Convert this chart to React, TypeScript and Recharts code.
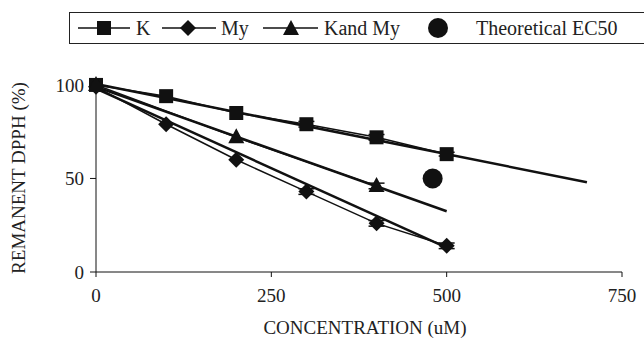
import {
  ComposedChart,
  Line,
  Scatter,
  XAxis,
  YAxis,
  Label,
  ErrorBar,
} from "recharts";

// measured points
const kConc = [0, 100, 200, 300, 400, 500];
const kValues = [100, 94, 85, 79, 72, 63];
const kErrors = [0, 0, 0, 1.5, 1.5, 1];

const myConc = [0, 100, 200, 300, 400, 500];
const myValues = [99, 79, 60, 43, 26, 14];
const myErrors = [0, 0, 0, 1.5, 1.5, 1.5];

const kmyConc = [0, 200, 400];
const kmyValues = [100, 72, 46];
const kmyErrors = [0, 0, 1.5];

// linear trend lines (start / end)
const kTrendConc = [0, 700];
const kTrendValues = [100.5, 48];
const myTrendConc = [0, 500];
const myTrendValues = [98, 13];
const kmyTrendConc = [0, 500];
const kmyTrendValues = [99, 32.5];

const ec50Conc = [480];
const ec50Values = [50];

const xTicks = [0, 250, 500, 750];
const yTicks = [0, 50, 100];

const FONT =
  "'Liberation Serif', 'Tinos', 'Noto Serif', 'DejaVu Serif', 'FreeSerif', serif";

const toRows = (xs: number[], ys: number[], es?: number[]) =>
  xs.map((x, i) => ({ x, y: ys[i], err: es ? es[i] : 0 }));

const kData = toRows(kConc, kValues, kErrors);
const myData = toRows(myConc, myValues, myErrors);
const kmyData = toRows(kmyConc, kmyValues, kmyErrors);
const kTrend = toRows(kTrendConc, kTrendValues);
const myTrend = toRows(myTrendConc, myTrendValues);
const kmyTrend = toRows(kmyTrendConc, kmyTrendValues);
const ec50Data = toRows(ec50Conc, ec50Values);

const Square = (props: any) => {
  const { cx, cy } = props;
  if (cx == null || cy == null) return null;
  return <rect x={cx - 7} y={cy - 7} width={14} height={14} fill="#111" />;
};

const Diamond = (props: any) => {
  const { cx, cy } = props;
  if (cx == null || cy == null) return null;
  const r = 8;
  return (
    <polygon
      points={`${cx},${cy - r} ${cx + r},${cy} ${cx},${cy + r} ${cx - r},${cy}`}
      fill="#111"
    />
  );
};

const Triangle = (props: any) => {
  const { cx, cy } = props;
  if (cx == null || cy == null) return null;
  return (
    <polygon
      points={`${cx},${cy - 9} ${cx + 8},${cy + 6} ${cx - 8},${cy + 6}`}
      fill="#111"
    />
  );
};

const Dot = (props: any) => {
  const { cx, cy } = props;
  if (cx == null || cy == null) return null;
  return <circle cx={cx} cy={cy} r={10} fill="#111" />;
};

function LegendBox() {
  const item = {
    position: "absolute" as const,
    top: 0,
    fontSize: 20,
    lineHeight: "30px",
  };
  return (
    <div
      style={{
        position: "absolute",
        left: 69,
        top: 12,
        width: 600,
        height: 30,
        border: "1.5px solid #222",
        fontFamily: FONT,
        color: "#222",
      }}
    >
      <svg
        width={600}
        height={30}
        style={{ position: "absolute", left: 0, top: 0 }}
      >
        <line x1={8} x2={60} y1={15} y2={15} stroke="#111" strokeWidth={1.5} />
        <Square cx={34} cy={15} />
        <line x1={92} x2={146} y1={15} y2={15} stroke="#111" strokeWidth={1.5} />
        <Diamond cx={118} cy={15} />
        <line x1={193} x2={248} y1={15} y2={15} stroke="#111" strokeWidth={1.5} />
        <Triangle cx={221} cy={16} />
        <Dot cx={368} cy={15} />
      </svg>
      <span style={{ ...item, left: 66 }}>K</span>
      <span style={{ ...item, left: 151 }}>My</span>
      <span style={{ ...item, left: 254 }}>Kand My</span>
      <span style={{ ...item, left: 406 }}>Theoretical EC50</span>
    </div>
  );
}

export default function App() {
  const axisStyle = { fontFamily: FONT, fontSize: 19, fill: "#222" };
  return (
    <div
      style={{
        position: "absolute",
        left: 0,
        top: 0,
        width: 644,
        height: 342,
        background: "#fff",
        overflow: "hidden",
      }}
    >
      <ComposedChart
        width={644}
        height={342}
        margin={{ top: 84, right: 22, bottom: 40, left: 36 }}
      >
        <XAxis
          type="number"
          dataKey="x"
          domain={[0, 750]}
          ticks={xTicks}
          tick={axisStyle}
          tickSize={5}
          tickMargin={12}
          stroke="#111"
          height={30}
        >
          <Label
            value="CONCENTRATION (uM)"
            position="insideBottom"
            offset={-32}
            dx={6}
            style={{ ...axisStyle, textAnchor: "middle" }}
          />
        </XAxis>
        <YAxis
          type="number"
          dataKey="y"
          domain={[0, 100]}
          ticks={yTicks}
          tick={axisStyle}
          tickSize={6}
          tickMargin={6}
          stroke="#111"
          width={60}
        >
          <Label
            value="REMANENT DPPH (%)"
            angle={-90}
            position="insideLeft"
            offset={-18}
            style={{ ...axisStyle, textAnchor: "middle" }}
          />
        </YAxis>

        <Line
          data={kTrend}
          dataKey="y"
          stroke="#111"
          strokeWidth={2.5}
          dot={false}
          isAnimationActive={false}
        />
        <Line
          data={myTrend}
          dataKey="y"
          stroke="#111"
          strokeWidth={2.5}
          dot={false}
          isAnimationActive={false}
        />
        <Line
          data={kmyTrend}
          dataKey="y"
          stroke="#111"
          strokeWidth={2.5}
          dot={false}
          isAnimationActive={false}
        />

        <Line
          data={kData}
          dataKey="y"
          stroke="#111"
          strokeWidth={1.5}
          dot={<Square />}
          isAnimationActive={false}
        >
          <ErrorBar dataKey="err" width={8} stroke="#111" strokeWidth={1.5} direction="y" />
        </Line>
        <Line
          data={myData}
          dataKey="y"
          stroke="#111"
          strokeWidth={1.5}
          dot={<Diamond />}
          isAnimationActive={false}
        >
          <ErrorBar dataKey="err" width={8} stroke="#111" strokeWidth={1.5} direction="y" />
        </Line>
        <Line
          data={kmyData}
          dataKey="y"
          stroke="#111"
          strokeWidth={1.5}
          dot={<Triangle />}
          isAnimationActive={false}
        >
          <ErrorBar dataKey="err" width={8} stroke="#111" strokeWidth={1.5} direction="y" />
        </Line>
        <Scatter
          data={ec50Data}
          dataKey="y"
          shape={<Dot />}
          isAnimationActive={false}
        />
      </ComposedChart>
      <LegendBox />
    </div>
  );
}
